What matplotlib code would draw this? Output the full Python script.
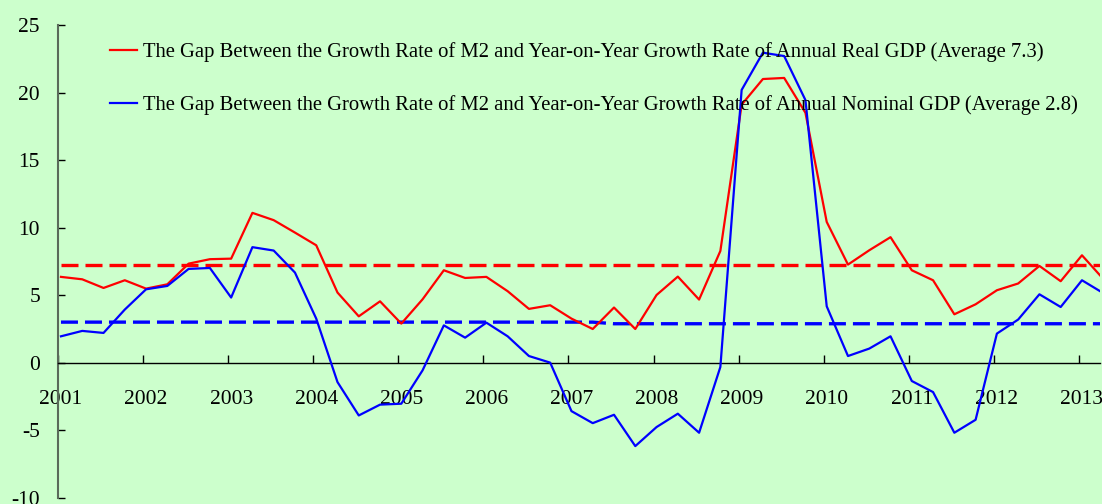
import numpy as np
import matplotlib
matplotlib.use("Agg")
import matplotlib.pyplot as plt
import matplotlib.transforms as mtransforms

# ---- data (quarterly, 2001Q1 ... 2013Q2) ----
real_gap = [6.35, 6.17, 5.53, 6.10, 5.48, 5.80, 7.33, 7.66, 7.70, 11.09,
            10.55, 9.63, 8.69, 5.19, 3.43, 4.54, 2.89, 4.69, 6.84, 6.27,
            6.35, 5.29, 3.98, 4.25, 3.26, 2.49, 4.08, 2.49, 5.01, 6.37,
            4.67, 8.27, 19.10, 21.00, 21.08, 18.50, 10.42, 7.26, 8.32, 9.29,
            6.84, 6.10, 3.58, 4.32, 5.36, 5.86, 7.16, 6.03, 7.95, 6.20]
nominal_gap = [1.95, 2.35, 2.20, 3.93, 5.43, 5.68, 6.94, 7.01, 4.82, 8.55,
               8.30, 6.67, 3.26, -1.44, -3.91, -3.11, -3.04, -0.57, 2.76, 1.85,
               2.96, 1.95, 0.49, 0.00, -3.59, -4.48, -3.86, -6.18, -4.77, -3.78,
               -5.19, -0.32, 20.19, 22.95, 22.70, 19.44, 4.17, 0.49, 1.04, 1.95,
               -1.36, -2.18, -5.19, -4.23, 2.15, 3.19, 5.06, 4.12, 6.10, 5.15]
real_avg = [7.26] * 50
nominal_avg = [3.0] * 26 + [2.88] * 24
years = list(range(2001, 2014))
yticks = [-10, -5, 0, 5, 10, 15, 20, 25]
labels = ["The Gap Between the Growth Rate of M2 and Year-on-Year Growth Rate of Annual Real GDP (Average 7.3)",
          "The Gap Between the Growth Rate of M2 and Year-on-Year Growth Rate of Annual Nominal GDP (Average 2.8)"]

plt.rcParams['font.family'] = ['Liberation Serif', 'DejaVu Serif']
bg = '#CCFFCC'

fig = plt.figure(figsize=(11.02, 5.04), dpi=100, facecolor=bg)
ax = fig.add_axes([58/1102, (504-497.7)/504, (1100-58)/1102, (497.7-25)/504])
ax.set_facecolor(bg)

x = 2001.035 + 0.25 * np.arange(len(real_gap))

ax.plot(x, real_avg, color='#FF0000', lw=2.4, dashes=(5.1, 2.1), zorder=2)
ax.plot(x, nominal_avg, color='#0000FF', lw=2.4, dashes=(5.1, 2.1), zorder=2)
l1, = ax.plot(x, real_gap, color='#FF0000', lw=1.6, zorder=3, label=labels[0])
l2, = ax.plot(x, nominal_gap, color='#0000FF', lw=1.6, zorder=3, label=labels[1])

ax.set_xlim(2001.0, 2013.247)
ax.set_ylim(-10, 25)

for s in ['top', 'right']:
    ax.spines[s].set_visible(False)
ax.spines['bottom'].set_position(('data', 0))
ax.spines['bottom'].set_color('black')
ax.spines['bottom'].set_linewidth(1.0)
ax.spines['left'].set_color('#5A6A5A')
ax.spines['left'].set_linewidth(1.5)

ax.set_xticks(years)
ax.set_xticklabels([str(y) for y in years])
ax.set_yticks(yticks)
ax.set_yticklabels([str(v) for v in yticks])
ax.tick_params(axis='x', direction='in', length=6, width=1, pad=20, labelsize=15.5, colors='black')
ax.tick_params(axis='y', direction='in', length=5, width=1, pad=13, labelsize=15.5, colors='black')

offset = mtransforms.ScaledTranslation(3/100, 0, fig.dpi_scale_trans)
for lab in ax.get_xticklabels():
    lab.set_transform(lab.get_transform() + offset)

leg = ax.legend(handles=[l1, l2], loc='upper left', bbox_to_anchor=(52/1042, 1 - 17/472.7),
                frameon=False, fontsize=14.85, handlelength=1.3, handletextpad=0.3,
                labelspacing=1.63, borderaxespad=0, borderpad=0)

fig.savefig('out.png', dpi=100, facecolor=bg)
